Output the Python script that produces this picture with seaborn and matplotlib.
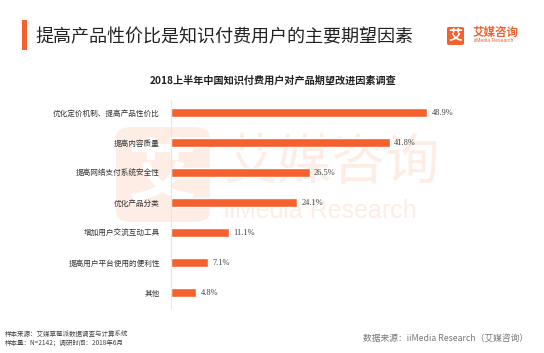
import matplotlib
matplotlib.use("Agg")
import matplotlib.pyplot as plt
from matplotlib.patches import FancyBboxPatch, Rectangle
import seaborn as sns
import pandas as pd

categories = ["优化定价机制、提高产品性价比", "提高内容质量", "提高网络支付系统安全性",
              "优化产品分类", "增加用户交流互动工具", "提高用户平台使用的便利性", "其他"]
values = [48.9, 41.8, 26.5, 24.1, 11.1, 7.1, 4.8]
value_labels = ["48.9%", "41.8%", "26.5%", "24.1%", "11.1%", "7.1%", "4.8%"]

title = "提高产品性价比是知识付费用户的主要期望因素"
subtitle = "2018上半年中国知识付费用户对产品期望改进因素调查"
note1 = "样本来源：艾媒草莓派数据调查与计算系统"
note2 = "样本量：N=2142；调研时间：2018年6月"
source = "数据来源：iiMedia Research（艾媒咨询）"

sns.set_style("white")
plt.rcParams['font.family'] = ['Noto Sans CJK SC', 'DejaVu Sans']

ORANGE = "#F4612F"
WM = "#FDEDE4"
W, H = 544, 353
fig = plt.figure(figsize=(W / 100, H / 100), dpi=100)
fig.patch.set_facecolor("white")

def fx(x):
    return x / W

def fy(y):
    return 1 - y / H

# watermark (behind everything)
fig.patches.append(FancyBboxPatch((fx(116), fy(222)), fx(94), 95 / H,
                                  boxstyle="round,pad=0,rounding_size=0.03",
                                  transform=fig.transFigure, facecolor=WM,
                                  edgecolor="none", zorder=-5))
fig.text(fx(163), fy(176), "艾", fontsize=50, color="white", ha="center", va="center",
         fontweight="bold", zorder=-4)
fig.text(fx(224), fy(164), "艾媒咨询", fontsize=39, color=WM, ha="left", va="center", zorder=-4)
fig.text(fx(224), fy(211), "iiMedia Research", fontsize=18, color=WM, ha="left",
         va="center", family=["Liberation Sans"], zorder=-4)

df = pd.DataFrame({"cat": categories, "val": values})
ax = fig.add_axes([fx(171), fy(308), fx(329), 208 / H])
ax.patch.set_alpha(0)
sns.barplot(data=df, x="val", y="cat", color=ORANGE, width=0.3, saturation=1, ax=ax)
ax.set_xlim(0, 62.8)
ax.set_ylim(6.5, -0.43)
ax.set_xlabel("")
ax.set_ylabel("")
ax.set_xticks([])
for s in ["top", "right", "bottom"]:
    ax.spines[s].set_visible(False)
ax.spines["left"].set_color("#E6E6E6")
ax.spines["left"].set_linewidth(0.8)
ax.tick_params(axis="y", length=0, pad=8, labelsize=5.5, labelcolor="#333333")
for i, (v, lab) in enumerate(zip(values, value_labels)):
    ax.text(v + 0.8, i, lab, va="center", ha="left", fontsize=6, color="#444444",
            family=["Liberation Serif"])

# header
fig.patches.append(Rectangle((fx(22), fy(50)), fx(5), 30 / H, transform=fig.transFigure,
                             facecolor=ORANGE, edgecolor="none"))
fig.text(fx(35), fy(37), title, fontsize=13, color="#222222", ha="left", va="center",
         fontweight="medium")
fig.text(fx(273), fy(81), subtitle, fontsize=7.3, color="#222222", ha="center", va="center",
         fontweight="bold")

# logo
fig.patches.append(FancyBboxPatch((fx(447), fy(45)), fx(17), 18 / H,
                                  boxstyle="round,pad=0,rounding_size=0.004",
                                  transform=fig.transFigure, facecolor=ORANGE,
                                  edgecolor="none"))
fig.text(fx(455.5), fy(36), "艾", fontsize=10, color="white", ha="center", va="center",
         fontweight="bold")
fig.text(fx(473), fy(32), "艾媒咨询", fontsize=8.3, color=ORANGE, ha="left", va="center",
         fontweight="bold")
fig.text(fx(474), fy(41), "iiMedia Research", fontsize=3.6, color=ORANGE, ha="left", va="center",
         family=["Liberation Sans"])

# footer
fig.text(fx(5), fy(334), note1, fontsize=4.7, color="#444444", ha="left", va="center")
fig.text(fx(5), fy(344), note2, fontsize=4.7, color="#444444", ha="left", va="center")
fig.text(fx(528), fy(338), source, fontsize=6.3, color="#777777", ha="right", va="center")

fig.savefig("out.png", dpi=100, facecolor="white")
